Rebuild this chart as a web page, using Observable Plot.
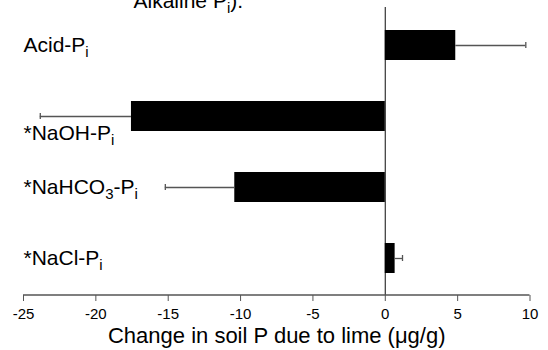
<!DOCTYPE html>
<html>
<head>
<meta charset="utf-8">
<script src="https://cdn.jsdelivr.net/npm/d3@7"></script>
<script src="https://cdn.jsdelivr.net/npm/@observablehq/plot@0.6"></script>
<style>
  html, body { margin: 0; padding: 0; background: #fff; }
  #chart svg { display: block; font-family: "Liberation Sans", Arial, sans-serif; }
</style>
</head>
<body>
<div id="chart"></div>
<script>
// ---- data ----
const categories = ["Acid-P_{i}", "*NaOH-P_{i}", "*NaHCO_{3}-P_{i}", "*NaCl-P_{i}"];
const changes = [4.87, -17.54, -10.4, 0.68];
const errors = [4.84, 6.3, 4.8, 0.51];
const xTicks = [-25, -20, -15, -10, -5, 0, 5, 10];
const xDomain = [-25, 10];
const xTitle = "Change in soil P due to lime (\u03BCg/g)";
const topNote = "Alkaline P_{i}).";

const rows = categories.map((c, i) => ({
  cat: c, v: changes[i], e: errors[i],
  end: changes[i] + Math.sign(changes[i]) * errors[i]
}));
const shifted = "*NaOH-P_{i}";

const font = "'Liberation Sans', Arial, sans-serif";

const plot = Plot.plot({
  width: 548,
  height: 350,
  marginTop: 7,
  marginBottom: 55,
  marginLeft: 23,
  marginRight: 18.5,
  insetTop: 22,
  insetBottom: 21,
  style: { fontFamily: font, background: "#fff", color: "#000" },
  x: { domain: xDomain, label: null },
  y: { domain: categories, axis: null, paddingInner: 0.58, paddingOuter: 0 },
  marks: [
    Plot.ruleX([0], { stroke: "#333", strokeWidth: 1.2 }),
    Plot.barX(rows, { x1: 0, x2: "v", y: "cat", fill: "#000" }),
    Plot.ruleY(rows, { x1: "v", x2: "end", y: "cat", stroke: "#555", strokeWidth: 1.3 }),
    Plot.tickX(rows, { x: "end", y: "cat", stroke: "#555", strokeWidth: 1.3, insetTop: 12, insetBottom: 12 }),
    Plot.text(rows.filter(d => d.cat !== shifted), {
      y: "cat", text: "cat", frameAnchor: "left", textAnchor: "start",
      fontSize: 21, fill: "#000"
    }),
    Plot.text(rows.filter(d => d.cat === shifted), {
      y: "cat", text: "cat", frameAnchor: "left", textAnchor: "start",
      fontSize: 21, fill: "#000", dy: 17
    }),
    Plot.axisX({
      ticks: xTicks, tickSize: 6, tickFormat: () => "",
      label: null, stroke: "#555"
    }),
    Plot.text(xTicks, {
      x: d => d, text: d => String(d), frameAnchor: "bottom",
      lineAnchor: "top", dy: 13, fontSize: 15, fill: "#000"
    }),
    Plot.text([xTitle], {
      frameAnchor: "bottom", lineAnchor: "top", dy: 32, fontSize: 22, fill: "#000"
    }),
    Plot.text([topNote], {
      frameAnchor: "top-left", textAnchor: "start", lineAnchor: "bottom",
      dx: 110, dy: 0, fontSize: 21, fill: "#000"
    })
  ]
});

// x axis baseline drawn through the library's x scale
const xs = plot.scale("x");
const svg = d3.select(plot);
svg.append("line")
  .attr("x1", xs.apply(xDomain[0])).attr("x2", xs.apply(xDomain[1]))
  .attr("y1", 350 - 55).attr("y2", 350 - 55)
  .attr("stroke", "#555").attr("stroke-width", 1.3);

// subscripts: convert "_{..}" markup into tspans
svg.selectAll("text").each(function () {
  const el = this;
  const s = el.textContent;
  if (!s.includes("_{")) return;
  const parts = s.split(/(_\{[^}]*\})/).filter(p => p.length);
  while (el.firstChild) el.removeChild(el.firstChild);
  let inSub = false;
  for (const p of parts) {
    const t = document.createElementNS("http://www.w3.org/2000/svg", "tspan");
    t.setAttribute("fill", "#000");
    const m = p.match(/^_\{([^}]*)\}$/);
    if (m) {
      t.textContent = m[1];
      t.setAttribute("font-size", "15");
      t.setAttribute("dy", "5");
      inSub = true;
    } else {
      t.textContent = p;
      if (inSub) { t.setAttribute("dy", "-5"); inSub = false; }
    }
    el.appendChild(t);
  }
});

document.getElementById("chart").appendChild(plot);
</script>
</body>
</html>
